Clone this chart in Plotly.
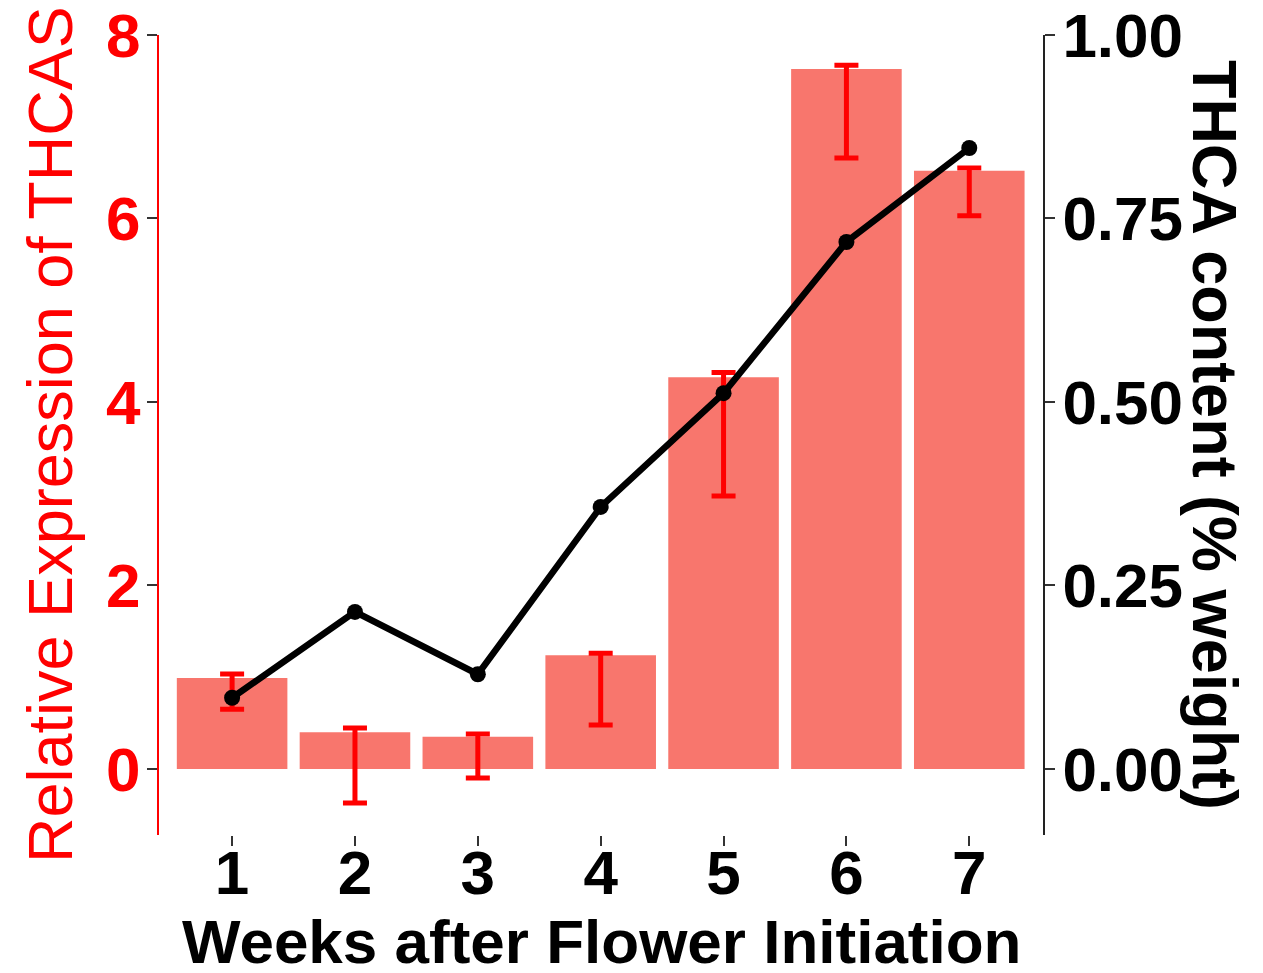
import plotly.graph_objects as go

weeks = [1, 2, 3, 4, 5, 6, 7]
expression = [0.99, 0.40, 0.35, 1.24, 4.27, 7.63, 6.52]
err_high = [1.035, 0.445, 0.38, 1.26, 4.32, 7.67, 6.55]
err_low = [0.65, -0.37, -0.10, 0.48, 2.975, 6.66, 6.03]
thca = [0.097, 0.214, 0.129, 0.357, 0.512, 0.718, 0.846]

left_ticks = [0, 2, 4, 6, 8]
right_ticks = [0.0, 0.25, 0.5, 0.75, 1.0]
right_labels = ["0.00", "0.25", "0.50", "0.75", "1.00"]

FONT = "Liberation Sans, Arial, sans-serif"

err_plus = [h - v for h, v in zip(err_high, expression)]
err_minus = [v - l for l, v in zip(err_low, expression)]

fig = go.Figure()
fig.add_trace(go.Bar(
    x=weeks, y=expression, width=0.9,
    marker=dict(color="#F8766D", line=dict(width=0)),
    error_y=dict(type="data", symmetric=False, array=err_plus, arrayminus=err_minus,
                 color="#FF0000", thickness=5, width=12),
    yaxis="y", showlegend=False,
))
fig.add_trace(go.Scatter(
    x=weeks, y=thca, mode="lines+markers",
    line=dict(color="black", width=6.5),
    marker=dict(color="black", size=16),
    yaxis="y2", showlegend=False,
))

# page body has an 8px margin, so the figure is sized to fit the window
fig.update_layout(
    width=1255, height=965,
    margin=dict(l=151, r=220, t=27, b=138),
    paper_bgcolor="white", plot_bgcolor="white",
    font=dict(family=FONT),
    xaxis=dict(
        range=[0.405, 7.60], tickvals=weeks, ticktext=[str(w) for w in weeks],
        showline=False, showgrid=False, zeroline=False, automargin=False,
        ticks="outside", ticklen=10, tickwidth=2, tickcolor="#333333",
        tickfont=dict(family=FONT, size=62, color="black", weight="bold"),
        ticklabelstandoff=-26,
    ),
    yaxis=dict(
        range=[-0.72, 8.0], tickvals=left_ticks, ticktext=[str(t) for t in left_ticks],
        showline=True, linecolor="#FF0000", linewidth=2,
        showgrid=False, zeroline=False, automargin=False,
        ticks="outside", ticklen=10, tickwidth=2, tickcolor="#333333",
        tickfont=dict(family=FONT, size=62, color="#FF0000", weight="bold"),
        ticklabelstandoff=-6, ticklabeloverflow="allow",
    ),
    yaxis2=dict(
        range=[-0.09, 1.0], tickvals=right_ticks, ticktext=right_labels,
        overlaying="y", side="right",
        showline=True, linecolor="#222222", linewidth=2,
        showgrid=False, zeroline=False, automargin=False,
        ticks="outside", ticklen=10, tickwidth=2, tickcolor="#333333",
        tickfont=dict(family=FONT, size=62, color="black", weight="bold"),
        ticklabelstandoff=-5, ticklabeloverflow="allow",
    ),
    annotations=[
        dict(text="Relative Expression of THCAS", xref="paper", yref="paper",
             x=0, y=0.5, xanchor="center", yanchor="middle", xshift=-109,
             textangle=-90, showarrow=False,
             font=dict(family=FONT, size=63, color="#FF0000")),
        dict(text="<b>THCA content (% weight)</b>", xref="paper", yref="paper",
             x=1, y=0.5, xanchor="center", yanchor="middle", xshift=172,
             textangle=90, showarrow=False,
             font=dict(family=FONT, size=63, color="black")),
        dict(text="<b>Weeks after Flower Initiation</b>", xref="paper", yref="paper",
             x=0.5, y=0, xanchor="center", yanchor="middle", yshift=-106,
             showarrow=False,
             font=dict(family=FONT, size=62, color="black")),
    ],
)

fig.write_html("out.html")
